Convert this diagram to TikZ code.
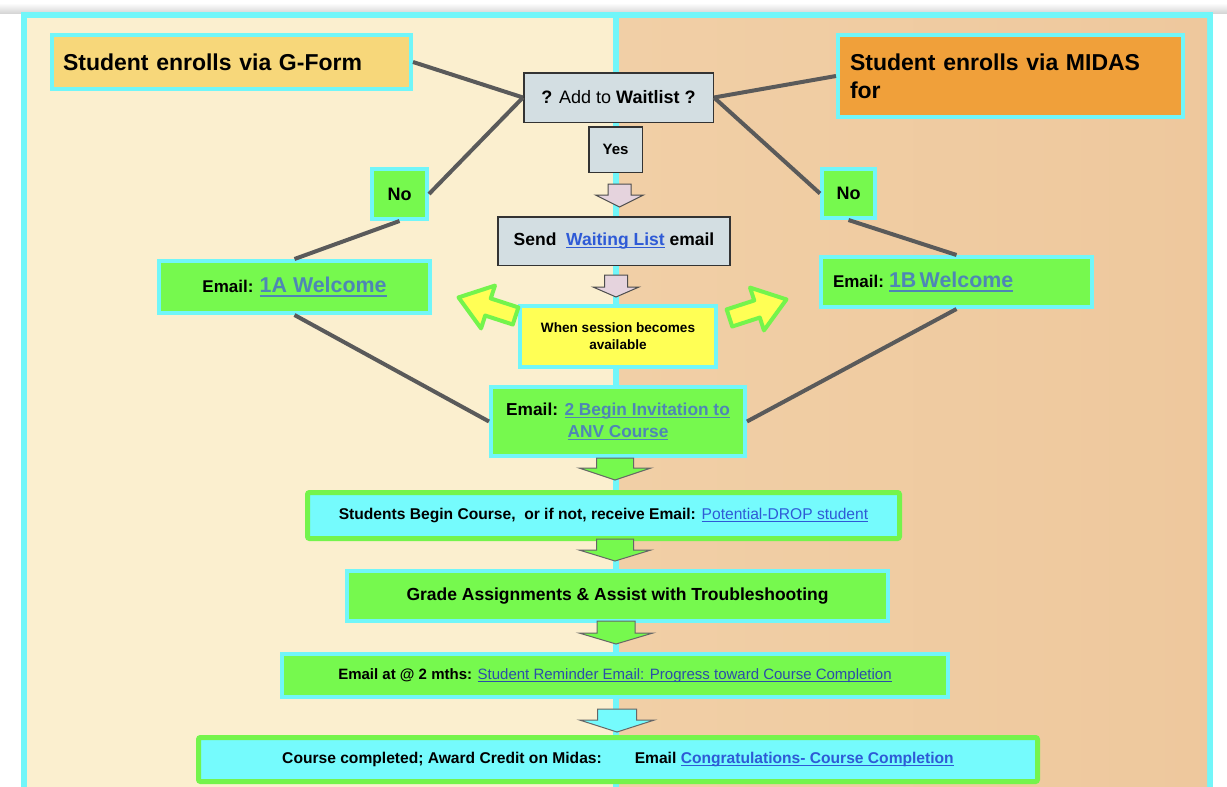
\documentclass[tikz,border=0pt]{standalone}
\usepackage{fontspec}
\setmainfont{Liberation Sans}
\usetikzlibrary{calc}

\definecolor{frameC}{RGB}{113,246,249}
\definecolor{leftpanel}{RGB}{251,239,207}
\definecolor{rightA}{RGB}{241,207,166}
\definecolor{rightB}{RGB}{238,200,157}
\definecolor{gformC}{RGB}{247,215,122}
\definecolor{midasC}{RGB}{240,160,58}
\definecolor{grayC}{RGB}{211,222,226}
\definecolor{boxline}{RGB}{51,51,51}
\definecolor{grn}{RGB}{118,249,78}
\definecolor{grnB}{RGB}{116,244,76}
\definecolor{cyanfill}{RGB}{117,251,253}
\definecolor{yel}{RGB}{255,255,85}
\definecolor{pinkC}{RGB}{229,211,221}
\definecolor{connC}{RGB}{90,90,90}
\definecolor{lnkSteel}{RGB}{78,134,181}
\definecolor{lnkBlue}{RGB}{46,90,214}
\definecolor{lnkDark}{RGB}{43,78,168}

% underlined link text
\newcommand\linkline[1]{\setbox0\hbox{#1}\rlap{\vrule height -0.09em depth 0.17em width \wd0}\box0}
\newcommand\lnkSteel[1]{\textcolor{lnkSteel}{\linkline{#1}}}
\newcommand\lnkBlue[1]{\textcolor{lnkBlue}{\linkline{#1}}}
\newcommand\lnkDark[1]{\textcolor{lnkDark}{\linkline{#1}}}

% block arrow pointing down: style, top-centre, shaft half width, head half width, shaft length, head length
\newcommand\blockdown[6]{\draw[#1,shift={(#2)}] (-#3,0) -- (#3,0) -- (#3,#5) -- (#4,#5) -- (0,#5+#6) -- (-#4,#5) -- (-#3,#5) -- cycle;}
% fat yellow arrow: centre, direction angle
\newcommand\fatarrow[2]{\draw[yelarrow,shift={(#1)},rotate=#2] (-29,-9) -- (0,-9) -- (0,-22.5) -- (31,0) -- (0,22.5) -- (0,9) -- (-29,9) -- cycle;}

\begin{document}
\begin{tikzpicture}[x=1pt,y=-1pt,
  cyanbox/.style={draw=frameC,line width=4pt,fill=grn,inner sep=0pt},
  grnbox/.style={draw=grnB,line width=5pt,fill=cyanfill,rounded corners=2pt,inner sep=0pt},
  graybox/.style={draw=boxline,line width=1.5pt,fill=grayC,inner sep=0pt},
  conn/.style={draw=connC,line width=4pt},
  pinkarrow/.style={fill=pinkC,draw=black!70,line width=1pt},
  grnarrow/.style={fill=grn,draw=black!60,line width=1pt},
  cyanarrow/.style={fill=cyanfill,draw=black!60,line width=1pt},
  yelarrow/.style={fill=yel,draw=grnB,line width=4pt,line join=round},
  fs/.style={font=\fontsize{#1}{#1}\selectfont\bfseries}]

\useasboundingbox (0,0) rectangle (1227,787);
\clip (0,0) rectangle (1227,787);

% page and frame
\fill[white] (0,0) rectangle (1227,787);
\shade[top color=white,bottom color=black!16] (0,3) rectangle (1227,13);
\fill[frameC] (21,12) rectangle (1213,795);
\fill[leftpanel] (27,18) rectangle (613,795);
\shade[left color=rightA,right color=rightB] (619,18) rectangle (1207,795);

% boxes
\node[cyanbox,fill=gformC,minimum width=359pt,minimum height=54pt,text width=337pt,align=left,
      font=\fontsize{23}{28}\selectfont\bfseries] (gform) at (231.5,62) {Student enrolls via G-Form};
\node[cyanbox,fill=midasC,minimum width=345pt,minimum height=82pt,text width=321pt,align=left,
      font=\fontsize{23}{28}\selectfont\bfseries] (midas) at (1010.5,76) {Student enrolls via MIDAS\\for};

\node[graybox,minimum width=189.5pt,minimum height=49.5pt,font=\fontsize{18}{22}\selectfont]
      (wait) at (618.5,97.5) {\textbf{?} Add to \textbf{Waitlist ?}};
\node[graybox,minimum width=53.5pt,minimum height=45.5pt,fs=15] (yes) at (615.5,149.5) {Yes};
\node[graybox,minimum width=232pt,minimum height=48.5pt,fs=17.5] (send) at (614,241)
      {Send\ \ \lnkBlue{Waiting List} email};

\node[cyanbox,fill=yel,minimum width=196pt,minimum height=61pt,align=center,
      font=\fontsize{13.6}{17}\selectfont\bfseries] (when) at (618,336.5) {When session becomes\\available};
\node[cyanbox,minimum width=254pt,minimum height=69pt,align=center,
      font=\fontsize{17.3}{22}\selectfont\bfseries] (inv) at (618,421.5)
      {Email: \lnkSteel{2 Begin Invitation to}\\\lnkSteel{ANV Course}};

\node[cyanbox,minimum width=55pt,minimum height=50pt,fs=18] (noL) at (399.5,194) {No};
\node[cyanbox,minimum width=53pt,minimum height=49pt,fs=18] (noR) at (848.5,193.5) {No};

\node[cyanbox,minimum width=271pt,minimum height=52pt,font=\bfseries] (wA) at (294.5,287)
      {{\fontsize{17}{20}\selectfont Email: }{\fontsize{21.4}{24}\selectfont\lnkSteel{1A Welcome}}};
\node[cyanbox,minimum width=271pt,minimum height=50pt,text width=247pt,align=left,font=\bfseries] (wB) at (956.5,282)
      {{\fontsize{17}{20}\selectfont Email: }{\fontsize{21.4}{24}\selectfont\lnkSteel{1B Welcome}}};

\node[grnbox,minimum width=592pt,minimum height=46pt,fs=15.6] (begin) at (603.5,515.5)
      {Students Begin Course,\ \ or if not, receive Email: \lnkBlue{\mdseries Potential-DROP student}};
\node[cyanbox,minimum width=541pt,minimum height=50pt,fs=17.5] (grade) at (617.5,596)
      {Grade Assignments \& Assist with Troubleshooting};
\node[cyanbox,minimum width=666pt,minimum height=43pt,font=\fontsize{15}{17}\selectfont] (remind) at (615,675.5)
      {\textbf{Email at @ 2 mths:} \lnkDark{Student Reminder Email: Progress toward Course Completion}};
\node[grnbox,minimum width=839pt,minimum height=44pt,font=\fontsize{15.6}{17}\selectfont\bfseries] (done) at (618,759.5)
      {Course completed; Award Credit on Midas:\hspace{33pt}Email \lnkBlue{Congratulations- Course Completion}};

% connectors
\draw[conn] (gform.east) -- (wait.west);
\draw[conn] (wait.east) -- (midas.west);
\draw[conn] (wait.west) -- (noL.east);
\draw[conn] (noL.south) -- (wA.north);
\draw[conn] (wA.south) -- (inv.west);
\draw[conn] (wait.east) -- (noR.west);
\draw[conn] (noR.south) -- (wB.north);
\draw[conn] (wB.south) -- (inv.east);

% block arrows along the main column
\coordinate (a1) at (619.5,184);
\coordinate (a2) at (616,275);
\coordinate (a3) at (615,458);
\coordinate (a4) at (615,539);
\coordinate (a5) at (616,621);
\coordinate (a6) at (617,709);
\blockdown{pinkarrow}{a1}{11.5}{24}{11}{12}
\blockdown{pinkarrow}{a2}{11.5}{23}{12}{10}
\blockdown{grnarrow}{a3}{18.5}{36}{10}{12}
\blockdown{grnarrow}{a4}{18.5}{36}{11}{11}
\blockdown{grnarrow}{a5}{19}{37}{12}{11}
\blockdown{cyanarrow}{a6}{19.5}{37.5}{11}{12}

% yellow arrows towards the welcome emails
\coordinate (yL) at (488,307);
\coordinate (yR) at (757,309);
\fatarrow{yL}{162}
\fatarrow{yR}{18}

\end{tikzpicture}
\end{document}
